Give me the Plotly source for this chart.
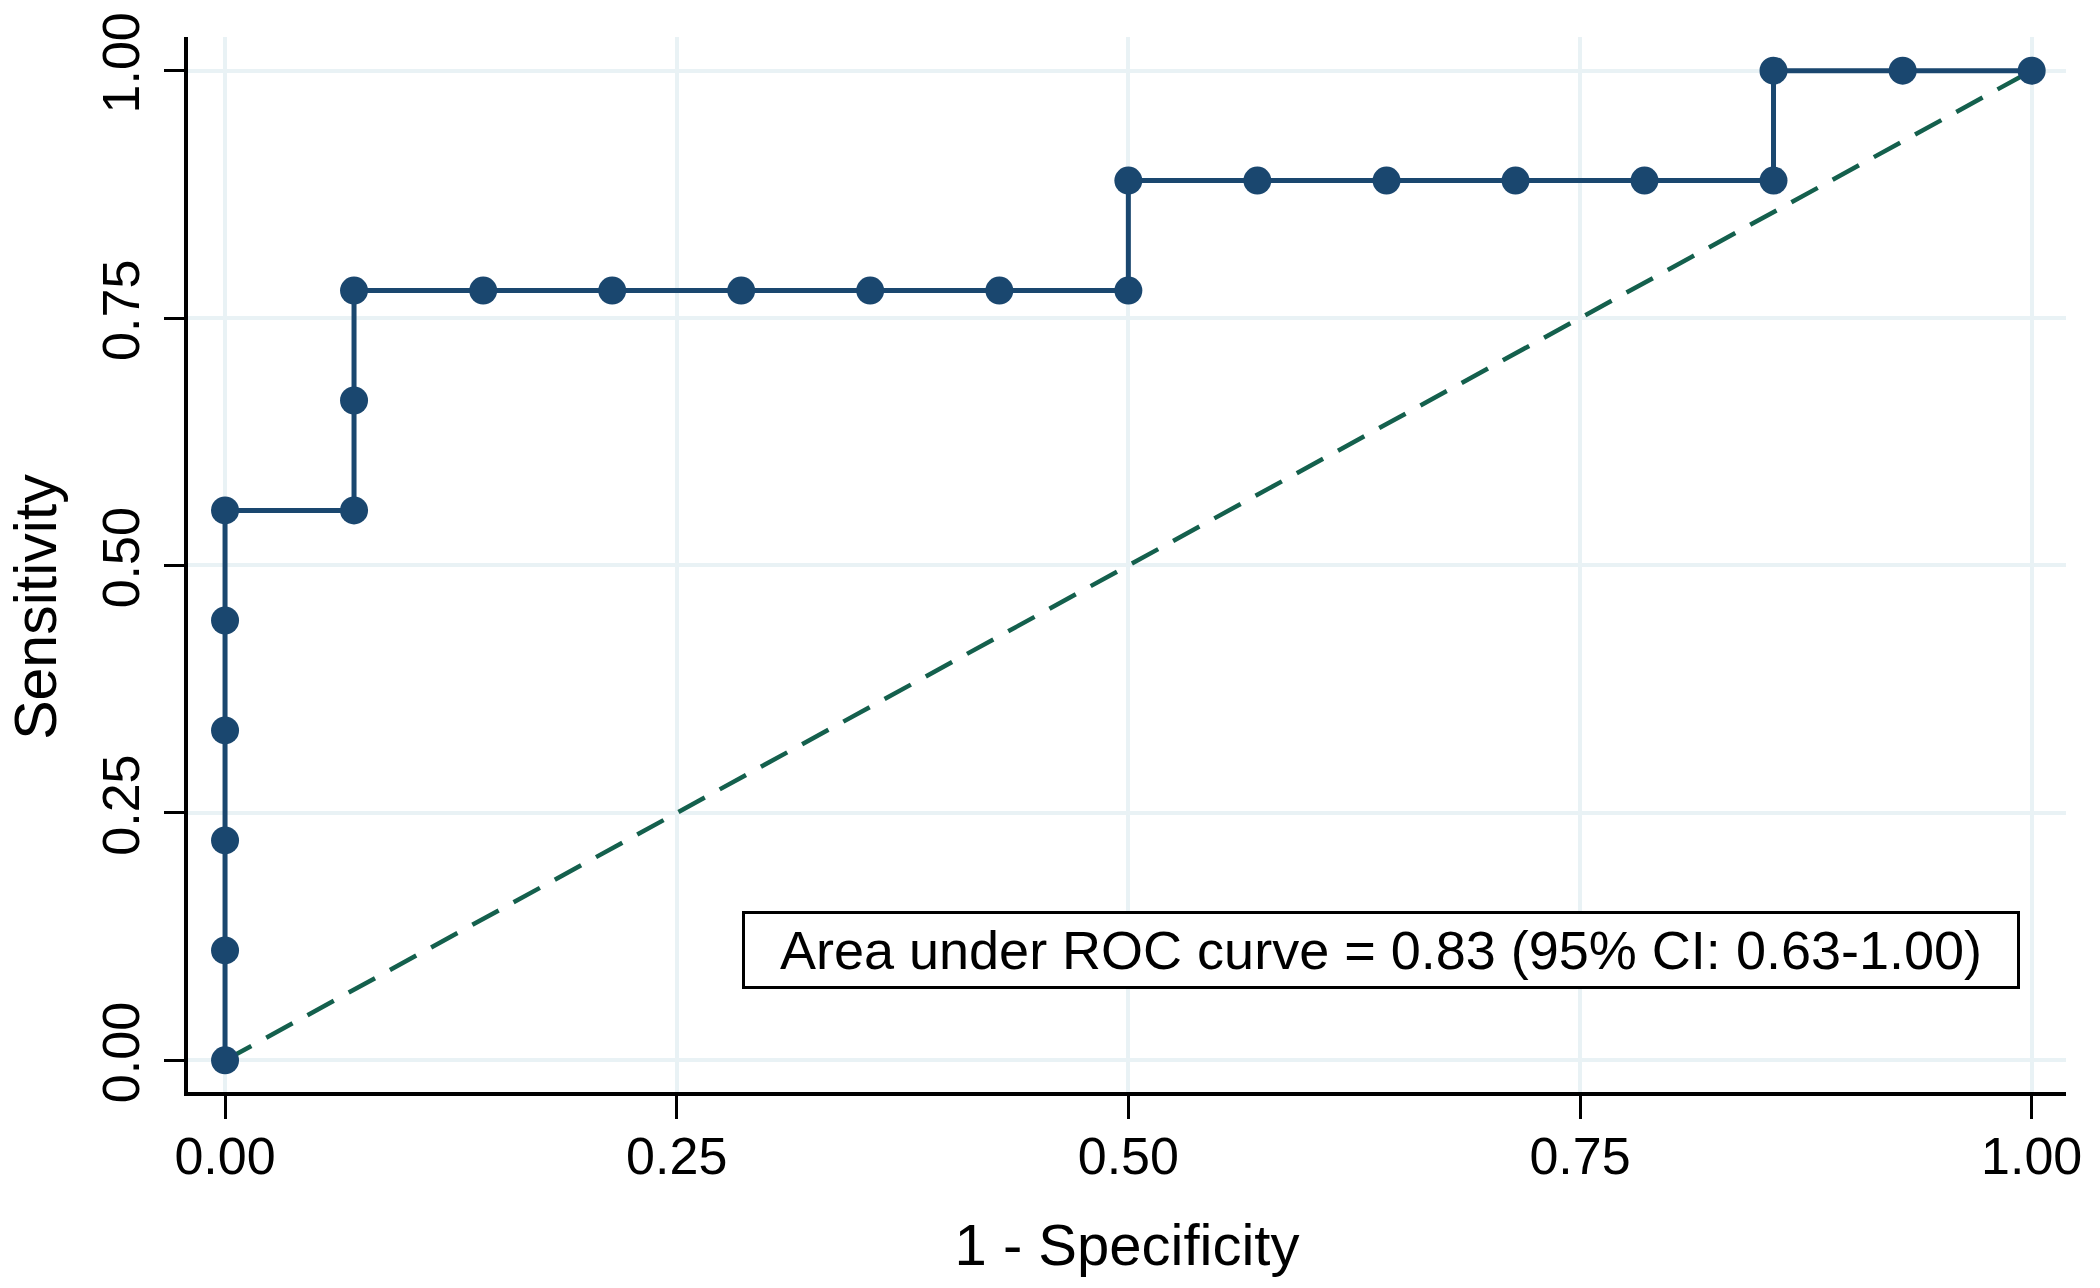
import plotly.graph_objects as go

# ROC curve points (1 - specificity, sensitivity)
fpr = [0.0, 0.0, 0.0, 0.0, 0.0, 0.0, 0.0714, 0.0714, 0.0714, 0.1429, 0.2143, 0.2857,
       0.3571, 0.4286, 0.5, 0.5, 0.5714, 0.6429, 0.7143, 0.7857, 0.8571, 0.8571, 0.9286, 1.0]
tpr = [0.0, 0.1111, 0.2222, 0.3333, 0.4444, 0.5556, 0.5556, 0.6667, 0.7778, 0.7778, 0.7778, 0.7778,
       0.7778, 0.7778, 0.7778, 0.8889, 0.8889, 0.8889, 0.8889, 0.8889, 0.8889, 1.0, 1.0, 1.0]
ref_x = [0.0, 1.0]
ref_y = [0.0, 1.0]
tick_vals = [0.0, 0.25, 0.5, 0.75, 1.0]
tick_text = ["0.00", "0.25", "0.50", "0.75", "1.00"]
auc_label = "Area under ROC curve = 0.83 (95% CI: 0.63-1.00)"

NAVY = "#1a476f"
GREEN = "#14604d"
GRID = "#e9f2f5"
FONT = "Liberation Sans, Arial, sans-serif"

L, R, T, B = 188, 34, 33, 196
W, H = 2100, 1288

fig = go.Figure()
fig.add_trace(go.Scatter(x=ref_x, y=ref_y, mode="lines",
                         line=dict(color=GREEN, width=4.5, dash="30px,17px"),
                         showlegend=False, hoverinfo="skip"))
fig.add_trace(go.Scatter(x=fpr, y=tpr, mode="lines+markers",
                         line=dict(color=NAVY, width=5),
                         marker=dict(color=NAVY, size=28, line=dict(width=0)),
                         showlegend=False))

fig.add_annotation(x=0.64, y=0.111, xref="x", yref="y", text=auc_label,
                   showarrow=False, xanchor="center", yanchor="middle",
                   font=dict(family=FONT, size=54, color="black"),
                   bordercolor="black", borderwidth=3, bgcolor="white",
                   width=1268, height=68, borderpad=2)

fig.add_annotation(x=(36 - L) / (W - L - R), xref="paper",
                   y=(H - B - 605) / (H - T - B), yref="paper", text="Sensitivity",
                   showarrow=False, textangle=-90, xanchor="center", yanchor="middle",
                   font=dict(family=FONT, size=59, color="black"))

fig.update_layout(
    width=W, height=H,
    margin=dict(l=L, r=R, t=T, b=B),
    paper_bgcolor="white", plot_bgcolor="white",
    font=dict(family=FONT, size=52, color="black"),
    xaxis=dict(range=[-0.0205, 1.019], tickvals=tick_vals, ticktext=tick_text,
               showgrid=True, gridcolor=GRID, gridwidth=4, zeroline=False,
               showline=True, linecolor="black", linewidth=4,
               ticks="outside", ticklen=23, tickwidth=3, tickcolor="black",
               ticklabelstandoff=-7,
               title=dict(text="1 - Specificity", font=dict(size=58), standoff=41),
               tickfont=dict(size=52)),
    yaxis=dict(range=[-0.032, 1.034], tickvals=tick_vals, ticktext=tick_text,
               showgrid=True, gridcolor=GRID, gridwidth=4, zeroline=False,
               showline=True, linecolor="black", linewidth=4,
               ticks="outside", ticklen=20, tickwidth=3, tickcolor="black",
               tickangle=-90, tickfont=dict(size=52), ticklabelstandoff=4),
)

fig.write_html("out.html", config={"displayModeBar": False},
               post_script="document.body.style.margin='0';document.body.style.overflow='hidden';")
